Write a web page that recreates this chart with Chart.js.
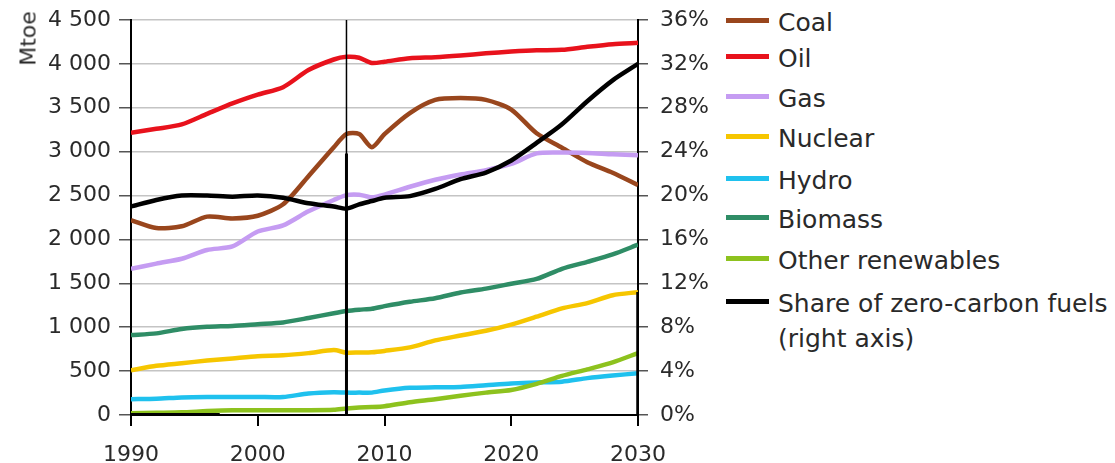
<!DOCTYPE html>
<html>
<head>
<meta charset="utf-8">
<script src="https://cdn.jsdelivr.net/npm/chart.js@4"></script>
<style>
  body { margin: 0; background: #fff; font-family: "DejaVu Sans", sans-serif; }
  #wrap { position: relative; width: 1115px; height: 463px; }
  #chartBox { position: absolute; left: 0; top: 0; width: 720px; height: 463px; }
  #unidad { position: absolute; left: -2px; top: 26px; width: 60px; font-size: 22px; color: #2a2a2a;
            transform: rotate(-90deg); transform-origin: center; text-align: center; }
  #leyenda { position: absolute; left: 726px; top: 0; font-size: 25px; color: #2a2a2a; }
  .fila { position: absolute; left: 0; white-space: nowrap; }
  .muestra { position: absolute; left: 0; width: 43px; height: 5px; }
  .texto { position: absolute; left: 52px; line-height: 35px; }
</style>
</head>
<body>
<div id="wrap">
  <div id="chartBox"><canvas id="grafico"></canvas></div>
  <div id="unidad">Mtoe</div>
  <div id="leyenda"></div>
</div>
<script>
// años de cada punto
const anios = [1990, 1992, 1994, 1996, 1998, 2000, 2002, 2004, 2006, 2007, 2008, 2009, 2010,
               2012, 2014, 2016, 2018, 2020, 2022, 2024, 2026, 2028, 2030];

// Mtoe (eje izquierdo)
const carbon = [2220, 2130, 2150, 2260, 2240, 2270, 2400, 2720, 3050, 3200, 3200, 3050, 3200,
                3440, 3590, 3610, 3590, 3480, 3210, 3045, 2880, 2760, 2620];
const petroleo = [3215, 3260, 3310, 3430, 3550, 3650, 3735, 3930, 4050, 4080, 4070, 4010, 4025,
                  4065, 4075, 4095, 4120, 4140, 4155, 4160, 4195, 4225, 4240];
const gas = [1665, 1725, 1780, 1880, 1920, 2090, 2160, 2320, 2450, 2505, 2510, 2480, 2510,
             2600, 2680, 2740, 2790, 2860, 2980, 2990, 2985, 2970, 2960];
const nuclear = [510, 560, 590, 620, 645, 670, 680, 705, 740, 710, 712, 715, 730,
                 770, 850, 905, 960, 1030, 1120, 1215, 1275, 1365, 1400];
const hidro = [180, 185, 200, 205, 205, 205, 205, 245, 260, 255, 255, 255, 280,
               310, 315, 320, 340, 360, 370, 380, 420, 450, 475];
const biomasa = [910, 930, 980, 1005, 1015, 1035, 1055, 1105, 1160, 1185, 1200, 1210, 1240,
                 1290, 1330, 1395, 1440, 1495, 1550, 1665, 1745, 1830, 1940];
const otrasRenov = [20, 25, 30, 45, 55, 55, 55, 55, 60, 75, 85, 90, 100,
                    145, 180, 220, 255, 285, 355, 445, 520, 600, 705];

// % (eje derecho)
const cuotaCeroCarbono = [19.0, 19.6, 20.0, 20.0, 19.9, 20.0, 19.8, 19.3, 19.0, 18.8, 19.2, 19.5, 19.8,
                          19.95, 20.6, 21.5, 22.1, 23.2, 24.8, 26.5, 28.6, 30.5, 32.0];

// ticks
const ticksMtoe = [0, 500, 1000, 1500, 2000, 2500, 3000, 3500, 4000, 4500];
const ticksPct = [0, 4, 8, 12, 16, 20, 24, 28, 32, 36];
const ticksAnio = [1990, 2000, 2010, 2020, 2030];

// línea vertical del año base (trazos sueltos que aparecen en la imagen)
const anioBase = 2007;
const lineaBase = [0, 4500];
const lineaBaseGruesa = [0, 2980];
const tramoFinal = [0, 1400];
const tramoInferior = [1990, 1997];

const series = [
    { label: 'Coal', data: carbon, color: '#99461d' },
    { label: 'Oil', data: petroleo, color: '#e8121c' },
    { label: 'Gas', data: gas, color: '#c59cf2' },
    { label: 'Nuclear', data: nuclear, color: '#f6c600' },
    { label: 'Hydro', data: hidro, color: '#1fc1ee' },
    { label: 'Biomass', data: biomasa, color: '#2f8d66' },
    { label: 'Other renewables', data: otrasRenov, color: '#8dc21e' }
];

const puntos = (vals) => vals.map((v, i) => ({ x: anios[i], y: v }));
const miles = (v) => v >= 1000 ? Math.floor(v / 1000) + ' ' + String(v % 1000).padStart(3, '0') : String(v);

const datasets = series.map((s, i) => ({
    label: s.label,
    data: puntos(s.data),
    borderColor: s.color,
    backgroundColor: s.color,
    borderWidth: 4.5,
    pointRadius: 0,
    tension: 0.25,
    yAxisID: 'y',
    order: 10 - i
}));

datasets.push({
    label: 'Share of zero-carbon fuels\n(right axis)',
    data: puntos(cuotaCeroCarbono),
    borderColor: '#000',
    backgroundColor: '#000',
    borderWidth: 4.5,
    pointRadius: 0,
    tension: 0.25,
    yAxisID: 'y1',
    order: 1
});

// trazos negros extra
const trazo = (pts, ancho) => ({
    label: '', data: pts, borderColor: '#000', borderWidth: ancho, pointRadius: 0,
    yAxisID: 'y', order: 0
});
datasets.push(trazo(lineaBase.map(v => ({ x: anioBase, y: v })), 1.5));
datasets.push(trazo(lineaBaseGruesa.map(v => ({ x: anioBase, y: v })), 3));
datasets.push(trazo(tramoFinal.map(v => ({ x: 2030, y: v })), 3.5));
datasets.push(trazo(tramoInferior.map(a => ({ x: a, y: 0 })), 4));

const fuente = { family: 'DejaVu Sans', size: 22 };

// ejes verticales: ancho fijo y sin relleno extra arriba/abajo
const ajustarY = (ancho) => (s) => { s.width = ancho; s.paddingTop = 0; s.paddingBottom = 0; };

new Chart(document.getElementById('grafico'), {
    type: 'line',
    data: { datasets: datasets },
    options: {
        responsive: true,
        maintainAspectRatio: false,
        animation: false,
        layout: { padding: { top: 20, bottom: 0, left: 0, right: 0 } },
        plugins: { legend: { display: false }, tooltip: { enabled: false } },
        scales: {
            x: {
                type: 'linear',
                min: 1990, max: 2030,
                afterBuildTicks: (s) => { s.ticks = ticksAnio.map(v => ({ value: v })); },
                afterFit: (s) => { s.height = 48; },
                ticks: { color: '#2a2a2a', font: fuente, padding: 16, callback: (v) => String(v), maxRotation: 0 },
                grid: { drawOnChartArea: false, color: '#000', lineWidth: 2, tickLength: 11 },
                border: { color: '#000', width: 2 }
            },
            y: {
                position: 'left',
                min: 0, max: 4500,
                afterBuildTicks: (s) => { s.ticks = ticksMtoe.map(v => ({ value: v })); },
                afterFit: ajustarY(131),
                ticks: { color: '#2a2a2a', font: fuente, padding: 8, callback: (v) => miles(v) },
                grid: { color: '#c4c4c4', lineWidth: 1.5, tickLength: 12, tickColor: '#555' },
                border: { color: '#000', width: 2 }
            },
            y1: {
                position: 'right',
                min: 0, max: 36,
                afterBuildTicks: (s) => { s.ticks = ticksPct.map(v => ({ value: v })); },
                afterFit: ajustarY(82),
                ticks: { color: '#2a2a2a', font: fuente, padding: 12, callback: (v) => v + '%' },
                grid: { drawOnChartArea: false, lineWidth: 1.5, tickLength: 10, color: '#555' },
                border: { color: '#000', width: 2 }
            }
        }
    }
});

// leyenda en HTML (dos líneas para la última entrada)
const leyenda = document.getElementById('leyenda');
const filasY = [22, 58, 98, 138, 180, 219, 260, 303];
const entradas = series.map(s => ({ label: s.label, color: s.color }));
entradas.push({ label: 'Share of zero-carbon fuels<br>(right axis)', color: '#000' });
entradas.forEach((e, i) => {
    const fila = document.createElement('div');
    fila.className = 'fila';
    fila.style.top = (filasY[i] - 17) + 'px';
    fila.innerHTML = '<div class="muestra" style="top:13px;background:' + e.color + '"></div>' +
                     '<div class="texto">' + e.label + '</div>';
    leyenda.appendChild(fila);
});
</script>
</body>
</html>
